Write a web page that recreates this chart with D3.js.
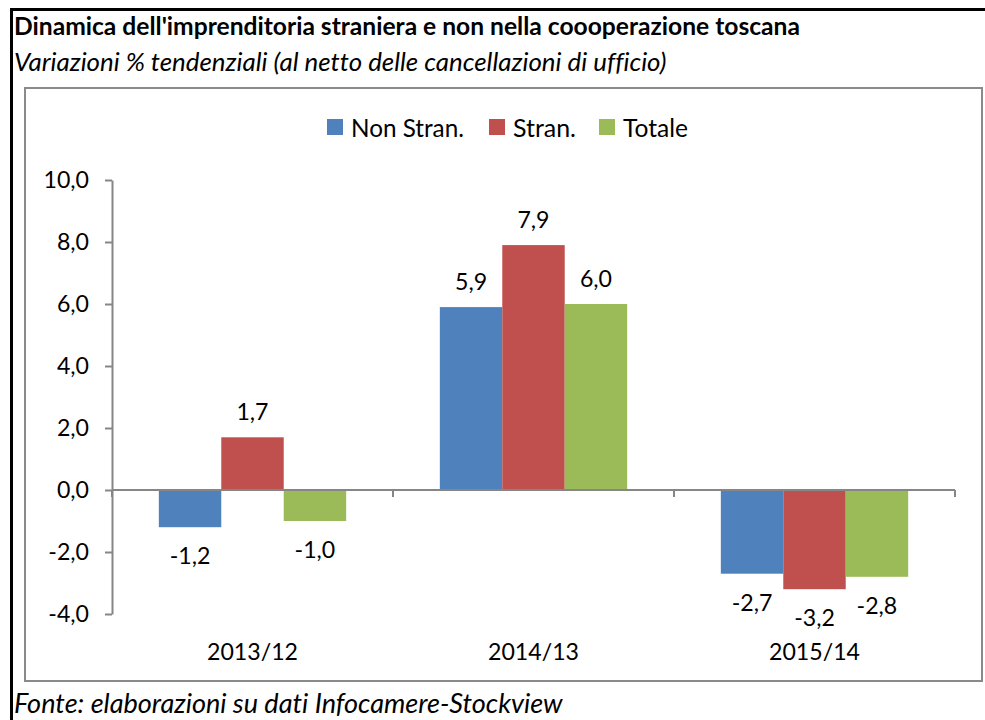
<!DOCTYPE html>
<html><head><meta charset="utf-8">
<script src="https://cdn.jsdelivr.net/npm/d3@7"></script>
<style>html,body{margin:0;padding:0;background:#fff}svg{display:block}text{font-variant-ligatures:none;font-feature-settings:"liga" 0,"clig" 0,"dlig" 0}</style>
</head><body>
<script>
const categories = ["2013/12", "2014/13", "2015/14"];
const seriesNames = ["Non Stran.", "Stran.", "Totale"];
const nonStran = [-1.2, 5.9, -2.7];
const stran = [1.7, 7.9, -3.2];
const totale = [-1.0, 6.0, -2.8];
const yTicks = [-4, -2, 0, 2, 4, 6, 8, 10];
const colors = ["#4F81BD", "#C0504D", "#9BBB59"];
const titleText = "Dinamica dell'imprenditoria straniera e non nella coooperazione toscana";
const subtitleText = "Variazioni % tendenziali (al netto delle cancellazioni di ufficio)";
const footerText = "Fonte: elaborazioni su dati Infocamere-Stockview";

const values = [nonStran, stran, totale];
const W = 985, H = 720;
const FONT = "Lato, 'Open Sans', sans-serif";
const svg = d3.select("body").append("svg").attr("width", W).attr("height", H)
  .style("font-family", FONT);

function fit(sel, target) {
  const node = sel.node();
  const fs = parseFloat(sel.attr("font-size"));
  const len = node.getComputedTextLength();
  sel.attr("font-size", fs * target / len);
}

// outer border
svg.append("path").attr("d", "M11.5,720 V9.5 H985").attr("fill", "none")
  .attr("stroke", "#000").attr("stroke-width", 3);

const t = svg.append("text").attr("x", 14).attr("y", 35).attr("font-size", 20)
  .attr("font-weight", "bold").attr("fill", "#000").text(titleText);
fit(t, 786);
const st = svg.append("text").attr("x", 14).attr("y", 71).attr("font-size", 20)
  .attr("font-style", "italic").attr("fill", "#000").text(subtitleText);
fit(st, 653);
const ft = svg.append("text").attr("x", 14).attr("y", 713).attr("font-size", 20)
  .attr("font-style", "italic").attr("fill", "#000").text(footerText);
fit(ft, 549);

// inner chart box
svg.append("rect").attr("x", 25).attr("y", 88).attr("width", 957).attr("height", 593)
  .attr("fill", "#fff").attr("stroke", "#8a8a8a").attr("stroke-width", 2);

const y = d3.scaleLinear().domain([-4, 10]).range([614, 180]);
const x0 = d3.scaleBand().domain(categories).range([112, 955]).paddingInner(0).paddingOuter(0);
const x1 = d3.scaleBand().domain(seriesNames).range([0, x0.bandwidth()]).paddingInner(0).paddingOuter(0.75);

// numeric font size fitted from a category label
const probe = svg.append("text").attr("font-size", 20).text("2013/12");
fit(probe, 91);
const NFS = parseFloat(probe.attr("font-size"));
probe.remove();

const fmt = v => d3.format(".1f")(v).replace(".", ",").replace("−", "-");

// y axis
const yAxis = svg.append("g").attr("transform", "translate(112,0)")
  .call(d3.axisLeft(y).tickValues(yTicks).tickSize(7).tickSizeOuter(0).tickPadding(16).tickFormat(fmt));
yAxis.select(".domain").attr("stroke", "#868686").attr("stroke-width", 2);
yAxis.selectAll(".tick line").attr("stroke", "#868686").attr("stroke-width", 2);
yAxis.selectAll(".tick text").attr("font-size", NFS).attr("font-family", FONT).attr("fill", "#000");

// bars
const groups = svg.append("g").selectAll("g").data(categories).join("g")
  .attr("transform", d => `translate(${x0(d)},0)`);
groups.selectAll("rect").data((c, i) => seriesNames.map((s, j) => ({ s, j, v: values[j][i] })))
  .join("rect")
  .attr("x", d => x1(d.s)).attr("width", x1.bandwidth())
  .attr("y", d => y(Math.max(0, d.v))).attr("height", d => Math.abs(y(d.v) - y(0)))
  .attr("fill", d => colors[d.j]);
groups.selectAll("text").data((c, i) => seriesNames.map((s, j) => ({ s, j, v: values[j][i] })))
  .join("text")
  .attr("x", d => x1(d.s) + x1.bandwidth() / 2)
  .attr("y", d => d.v >= 0 ? y(d.v) - 17 : y(d.v) + 37)
  .attr("text-anchor", "middle").attr("font-size", NFS).attr("fill", "#000")
  .text(d => fmt(d.v));

// x axis line at zero
const xAxis = svg.append("g").attr("transform", `translate(0,${y(0)})`);
xAxis.append("line").attr("x1", 112).attr("x2", 955).attr("stroke", "#868686").attr("stroke-width", 2);
const bounds = categories.map(c => x0(c)).concat([x0(categories[categories.length - 1]) + x0.bandwidth()]);
xAxis.selectAll("line.tk").data(bounds).join("line").attr("class", "tk")
  .attr("x1", d => d).attr("x2", d => d).attr("y1", 0).attr("y2", 7)
  .attr("stroke", "#868686").attr("stroke-width", 2);

// category labels
svg.append("g").selectAll("text").data(categories).join("text")
  .attr("x", d => x0(d) + x0.bandwidth() / 2).attr("y", 660)
  .attr("text-anchor", "middle").attr("font-size", NFS).attr("fill", "#000").text(d => d);

// legend
const legX = [327, 489, 599];
const legW = [113, 63, 65];
const leg = svg.append("g").selectAll("g").data(seriesNames).join("g")
  .attr("transform", (d, i) => `translate(${legX[i]},0)`);
leg.append("rect").attr("x", 0).attr("y", 119).attr("width", 16).attr("height", 16)
  .attr("fill", (d, i) => colors[i]);
leg.append("text").attr("x", 24).attr("y", 137).attr("font-size", 20).attr("fill", "#000")
  .text(d => d).each(function (d, i) { fit(d3.select(this), legW[i]); });
</script>
</body></html>
